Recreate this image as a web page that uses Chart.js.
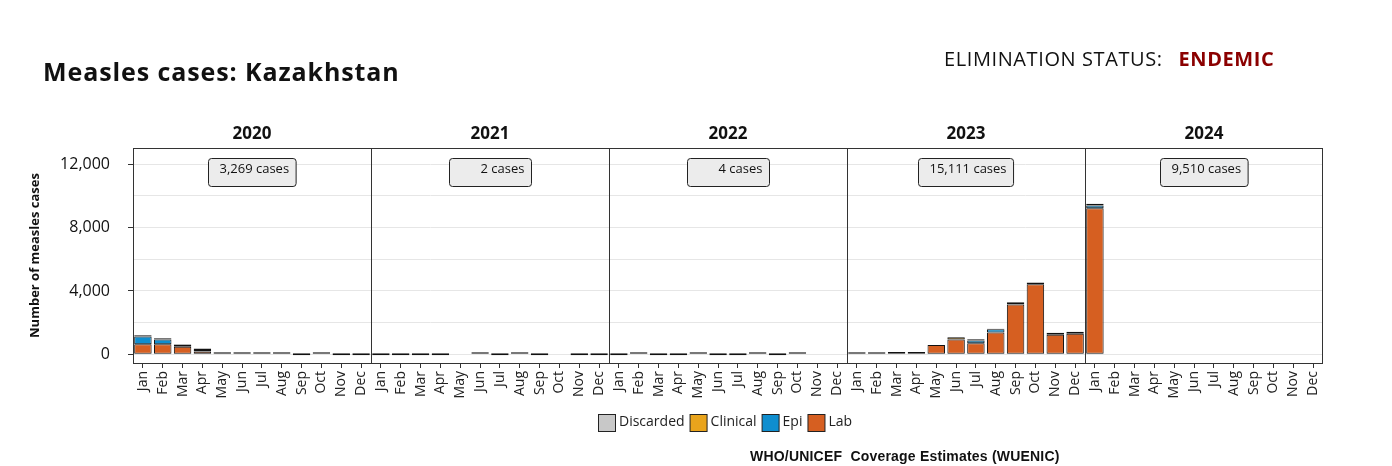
<!DOCTYPE html>
<html>
<head>
<meta charset="utf-8">
<script src="https://cdn.jsdelivr.net/npm/chart.js@4/dist/chart.umd.min.js"></script>
<style>
  body { margin: 0; background: #fff; }
  #wrap { position: relative; width: 1392px; height: 466px; font-family: "Open Sans", sans-serif; }
  canvas { position: absolute; left: 0; top: 0; }
  .title { position: absolute; left: 43px; top: 54px; font-weight: bold; font-size: 25px; letter-spacing: 0.9px; color: #111; }
  .status { position: absolute; left: 944px; top: 45px; font-size: 20px; letter-spacing: 0.6px; color: #111; white-space: nowrap; }
  .status b { color: #8b0000; margin-left: 10px; }
  .source { position: absolute; left: 750px; top: 448px; font: bold 14px "Liberation Sans", Arial, sans-serif; letter-spacing: 0.2px; color: #111; white-space: pre; }
</style>
</head>
<body>
<div id="wrap">
  <canvas id="chart" width="1392" height="466"></canvas>
  <div class="title">Measles cases: Kazakhstan</div>
  <div class="status">ELIMINATION STATUS: <b>ENDEMIC</b></div>
  <div class="source">WHO/UNICEF  Coverage Estimates (WUENIC)</div>
</div>
<script>
const years = ["2020", "2021", "2022", "2023", "2024"];
const months = ["Jan", "Feb", "Mar", "Apr", "May", "Jun", "Jul", "Aug", "Sep", "Oct", "Nov", "Dec"];
const yearTotals = ["3,269 cases", "2 cases", "4 cases", "15,111 cases", "9,510 cases"];
const yTicks = [0, 2000, 4000, 6000, 8000, 10000, 12000];

// monthly values, 2020 Jan .. 2024 Dec (null = not reported)
const lab = [
  640, 640, 480, 170, 20, 1, 1, 1, 0, 1, 0, 0,
  0, 0, 0, 0, null, 1, 0, 1, 0, null, 0, 0,
  0, 1, 0, 0, 1, 0, 0, 1, 0, 1, null, null,
  1, 10, 140, 140, 580, 930, 690, 1380, 3150, 4420, 1230, 1300,
  9230, null, null, null, null, null, null, null, null, null, null, null
];
const epi = [
  480, 300, 120, 100, 0, 0, 0, 0, 0, 0, 0, 0,
  0, 0, 0, 0, null, 0, 0, 0, 0, null, 0, 0,
  0, 0, 0, 0, 0, 0, 0, 0, 0, 0, null, null,
  0, 0, 0, 0, 0, 0, 180, 200, 90, 0, 0, 0,
  170, null, null, null, null, null, null, null, null, null, null, null
];
const clinical = [
  90, 80, 40, 100, 5, 0, 0, 0, 0, 0, 0, 0,
  0, 0, 0, 0, null, 0, 0, 0, 0, null, 0, 0,
  0, 0, 0, 0, 0, 0, 0, 0, 0, 0, null, null,
  0, 0, 0, 0, 0, 140, 80, 30, 50, 110, 130, 130,
  110, null, null, null, null, null, null, null, null, null, null, null
];
const discarded = new Array(60).fill(null);

const labels = [];
years.forEach(() => months.forEach(m => labels.push(m)));

const font = "Open Sans";

// year titles, total boxes, panel separators, frame and legend
const panelPlugin = {
  id: "panels",
  afterDatasetsDraw(chart) {
    const { ctx, chartArea: a, scales: { x } } = chart;
    ctx.save();
    ctx.strokeStyle = "#333";
    ctx.lineWidth = 1;
    ctx.strokeRect(a.left + 0.5, a.top + 0.5, a.right - a.left - 1, a.bottom - a.top);
    for (let i = 1; i < years.length; i++) {
      const px = Math.round((x.getPixelForValue(i * 12 - 1) + x.getPixelForValue(i * 12)) / 2) + 0.5;
      ctx.beginPath();
      ctx.moveTo(px, a.top);
      ctx.lineTo(px, a.bottom);
      ctx.stroke();
    }
    ctx.restore();
  },
  afterDraw(chart) {
    const { ctx, scales: { x } } = chart;
    ctx.save();
    years.forEach((yr, i) => {
      const cx = (x.getPixelForValue(i * 12) + x.getPixelForValue(i * 12 + 11)) / 2;
      ctx.fillStyle = "#111";
      ctx.font = "bold 17px " + font;
      ctx.textAlign = "center";
      ctx.textBaseline = "middle";
      ctx.fillText(yr, cx, 134);

      ctx.font = "13px " + font;
      const w = Math.max(ctx.measureText(yearTotals[i]).width + 18, 82);
      const bx = Math.round(cx - w / 2) + 0.5, by = 158.5, bh = 28;
      ctx.beginPath();
      ctx.roundRect(bx, by, w, bh, 3);
      ctx.fillStyle = "#ececec";
      ctx.fill();
      ctx.strokeStyle = "#222";
      ctx.stroke();
      ctx.fillStyle = "#111";
      ctx.textAlign = "right";
      ctx.fillText(yearTotals[i], bx + w - 7, by + 11);
    });

    // legend
    const items = chart.data.datasets.slice().reverse();
    ctx.font = "14px " + font;
    const box = 17, gap = 4, space = 5;
    let total = 0;
    items.forEach(d => { total += box + gap + ctx.measureText(d.label).width + space; });
    let lx = Math.round(728 - total / 2);
    const ly = 414;
    items.forEach(d => {
      ctx.fillStyle = d.backgroundColor;
      ctx.fillRect(lx + 0.5, ly + 0.5, box, box);
      ctx.strokeStyle = "#222";
      ctx.strokeRect(lx + 0.5, ly + 0.5, box, box);
      ctx.fillStyle = "#222";
      ctx.textAlign = "left";
      ctx.textBaseline = "middle";
      ctx.fillText(d.label, lx + box + gap, ly + 8);
      lx += box + gap + ctx.measureText(d.label).width + space;
    });
    ctx.restore();
  }
};

const barStyle = { borderColor: "#111", borderWidth: 1, borderSkipped: false, categoryPercentage: 1, barPercentage: 0.88 };

new Chart(document.getElementById("chart"), {
  type: "bar",
  data: {
    labels: labels,
    datasets: [
      { label: "Lab", data: lab, backgroundColor: "#d65f21", minBarLength: 2, ...barStyle },
      { label: "Epi", data: epi, backgroundColor: "#0f8ecf", ...barStyle },
      { label: "Clinical", data: clinical, backgroundColor: "#e9a41c", ...barStyle },
      { label: "Discarded", data: discarded, backgroundColor: "#c8c8c8", ...barStyle }
    ]
  },
  options: {
    responsive: false,
    animation: false,
    events: [],
    layout: { padding: { left: 20, right: 69, top: 148, bottom: 58 } },
    plugins: { legend: { display: false }, tooltip: { enabled: false } },
    scales: {
      x: {
        stacked: true,
        offset: true,
        grid: { drawOnChartArea: false, offset: false, tickLength: 5, color: "#333" },
        border: { display: false },
        ticks: { autoSkip: false, minRotation: 90, maxRotation: 90, padding: 3, color: "#222", font: { family: font, size: 14 } },
        afterFit(s) { s.height = 45; }
      },
      y: {
        stacked: true,
        min: -550,
        max: 13030,
        afterBuildTicks(s) { s.ticks = yTicks.map(v => ({ value: v })); },
        grid: {
          color: "#e6e6e6",
          tickLength: 5,
          tickColor: c => (c.tick && c.tick.value % 4000 === 0) ? "#333" : "rgba(0,0,0,0)"
        },
        border: { display: false },
        ticks: {
          padding: 18,
          color: "#111",
          font: { family: font, size: 16 },
          callback: v => v % 4000 === 0 ? v.toLocaleString("en-US") : ""
        },
        title: { display: true, text: "Number of measles cases", color: "#111", font: { family: font, size: 13, weight: "bold" }, padding: { top: 7, bottom: 0 } },
        afterFit(s) { s.width = 113; }
      }
    }
  },
  plugins: [panelPlugin]
});
</script>
</body>
</html>
